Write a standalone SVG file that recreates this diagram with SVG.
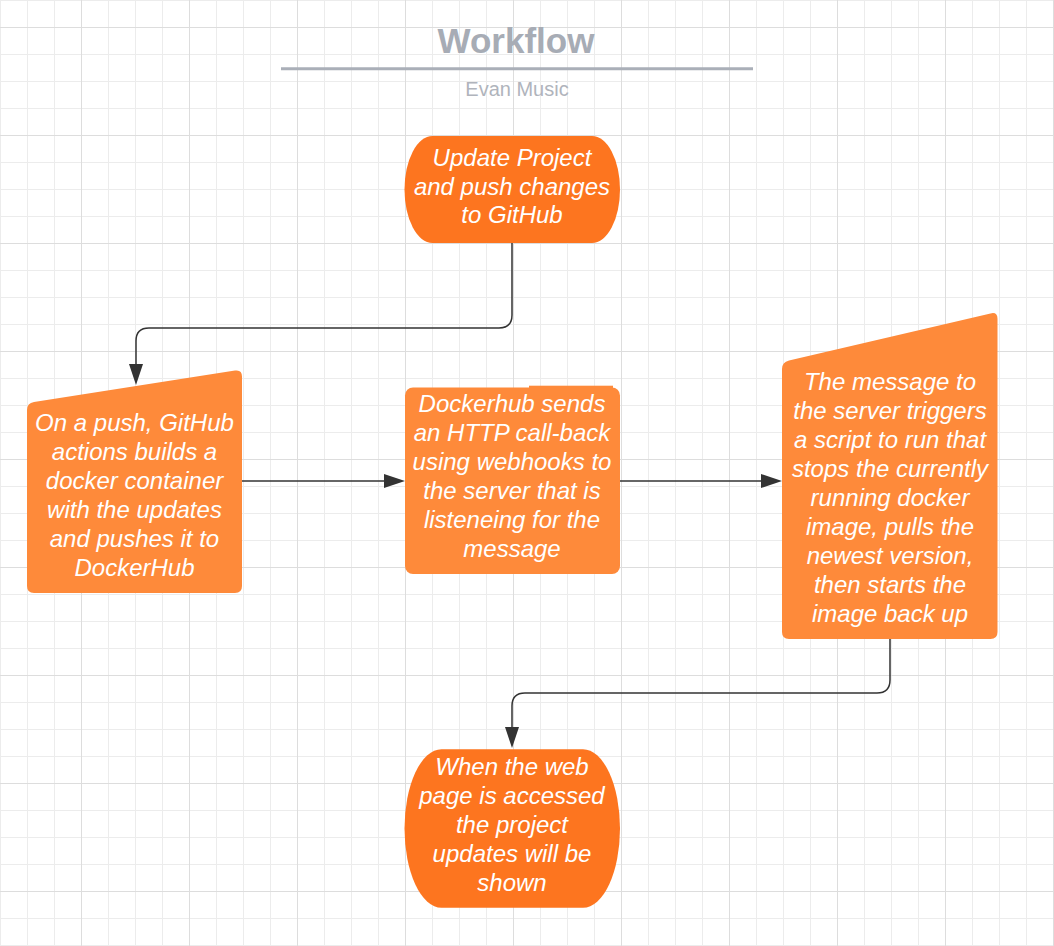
<svg xmlns="http://www.w3.org/2000/svg" width="1054" height="946" viewBox="0 0 1054 946">
  <style>
    .ntext { font-family: "Liberation Sans", Arial, sans-serif; font-style: italic; font-size: 24px; fill: #ffffff; text-anchor: middle; }
    .proc { fill: #fe8a3a; }
    .term { fill: #fd751f; }
    .conn { fill: none; stroke: #333333; stroke-width: 1.5; }
    .title { font-family: "Liberation Sans", Arial, sans-serif; font-weight: bold; font-size: 35px; fill: #a7acb5; text-anchor: middle; }
    .sub { font-family: "Liberation Sans", Arial, sans-serif; font-size: 20px; fill: #b0b4bc; text-anchor: middle; }
  </style>
  <defs>
    <pattern id="grid" width="108" height="108" patternUnits="userSpaceOnUse">
      <rect x="0" y="0" width="1" height="108" fill="#ececec"/>
      <rect x="27" y="0" width="1" height="108" fill="#ececec"/>
      <rect x="54" y="0" width="1" height="108" fill="#ececec"/>
      <rect x="0" y="0" width="108" height="1" fill="#ececec"/>
      <rect x="0" y="54" width="108" height="1" fill="#ececec"/>
      <rect x="0" y="81" width="108" height="1" fill="#ececec"/>
      <rect x="81" y="0" width="1" height="108" fill="#dddddd"/>
      <rect x="0" y="27" width="108" height="1" fill="#dddddd"/>
    </pattern>
    <marker id="arrow" markerUnits="userSpaceOnUse" markerWidth="21" markerHeight="14" refX="0" refY="7" orient="auto">
      <path d="M0,0 L21,7 L0,14 Z" fill="#333333"/>
    </marker>
  </defs>

  <rect x="0" y="0" width="1054" height="946" fill="#ffffff"/>
  <rect x="0" y="0" width="1054" height="946" fill="url(#grid)"/>

  <g id="title">
    <text class="title" x="516" y="53">Workflow</text>
    <line x1="281" y1="68.7" x2="753" y2="68.7" stroke="#aaafb8" stroke-width="3"/>
    <text class="sub" x="517" y="96">Evan Music</text>
  </g>

  <g id="connectors">
    <path class="conn" d="M512,243 V315 Q512,328 499,328 H149 Q136,328 136,341 V364" marker-end="url(#arrow)"/>
    <path class="conn" d="M242,481 H384" marker-end="url(#arrow)"/>
    <path class="conn" d="M620,481 H761" marker-end="url(#arrow)"/>
    <path class="conn" d="M890,639 V680 Q890,693 877,693 H525 Q512,693 512,706 V727" marker-end="url(#arrow)"/>
  </g>

  <g id="node-update">
    <rect class="term" x="404.5" y="136" width="215.5" height="107" rx="28" ry="53.5"/>
    <text class="ntext" x="512" y="166">Update Project</text>
    <text class="ntext" x="512" y="194.5">and push changes</text>
    <text class="ntext" x="512" y="223">to GitHub</text>
  </g>

  <g id="node-github-actions">
    <path class="proc" d="M27,410 Q27,403 34,401.9 L235,370.6 Q242,369.5 242,376.5 L242,586 Q242,593 235,593 L34,593 Q27,593 27,586 Z"/>
    <text class="ntext" x="134.5" y="431">On a push, GitHub</text>
    <text class="ntext" x="134.5" y="460">actions builds a</text>
    <text class="ntext" x="134.5" y="489">docker container</text>
    <text class="ntext" x="134.5" y="518">with the updates</text>
    <text class="ntext" x="134.5" y="547">and pushes it to</text>
    <text class="ntext" x="134.5" y="576">DockerHub</text>
  </g>

  <g id="node-dockerhub">
    <rect class="proc" x="405" y="387.5" width="215" height="186.5" rx="8" ry="8"/>
    <rect class="proc" x="529" y="385.7" width="84" height="10"/>
    <text class="ntext" x="512" y="412">Dockerhub sends</text>
    <text class="ntext" x="512" y="441">an HTTP call-back</text>
    <text class="ntext" x="512" y="470">using webhooks to</text>
    <text class="ntext" x="512" y="499">the server that is</text>
    <text class="ntext" x="512" y="528">listeneing for the</text>
    <text class="ntext" x="512" y="557">message</text>
  </g>

  <g id="node-server-script">
    <path class="proc" d="M782,369 Q782,362 789,360.4 L990.5,313.4 Q997.5,311.7 997.5,318.7 L997.5,632 Q997.5,639 990.5,639 L789,639 Q782,639 782,632 Z"/>
    <text class="ntext" x="890" y="390">The message to</text>
    <text class="ntext" x="890" y="419">the server triggers</text>
    <text class="ntext" x="890" y="448">a script to run that</text>
    <text class="ntext" x="890" y="477">stops the currently</text>
    <text class="ntext" x="890" y="506">running docker</text>
    <text class="ntext" x="890" y="535">image, pulls the</text>
    <text class="ntext" x="890" y="564">newest version,</text>
    <text class="ntext" x="890" y="593">then starts the</text>
    <text class="ntext" x="890" y="622">image back up</text>
  </g>

  <g id="node-webpage">
    <rect class="term" x="404.5" y="749.3" width="215.5" height="158.4" rx="37" ry="79.2"/>
    <text class="ntext" x="512" y="775">When the web</text>
    <text class="ntext" x="512" y="804">page is accessed</text>
    <text class="ntext" x="512" y="833">the project</text>
    <text class="ntext" x="512" y="862">updates will be</text>
    <text class="ntext" x="512" y="891">shown</text>
  </g>
</svg>
